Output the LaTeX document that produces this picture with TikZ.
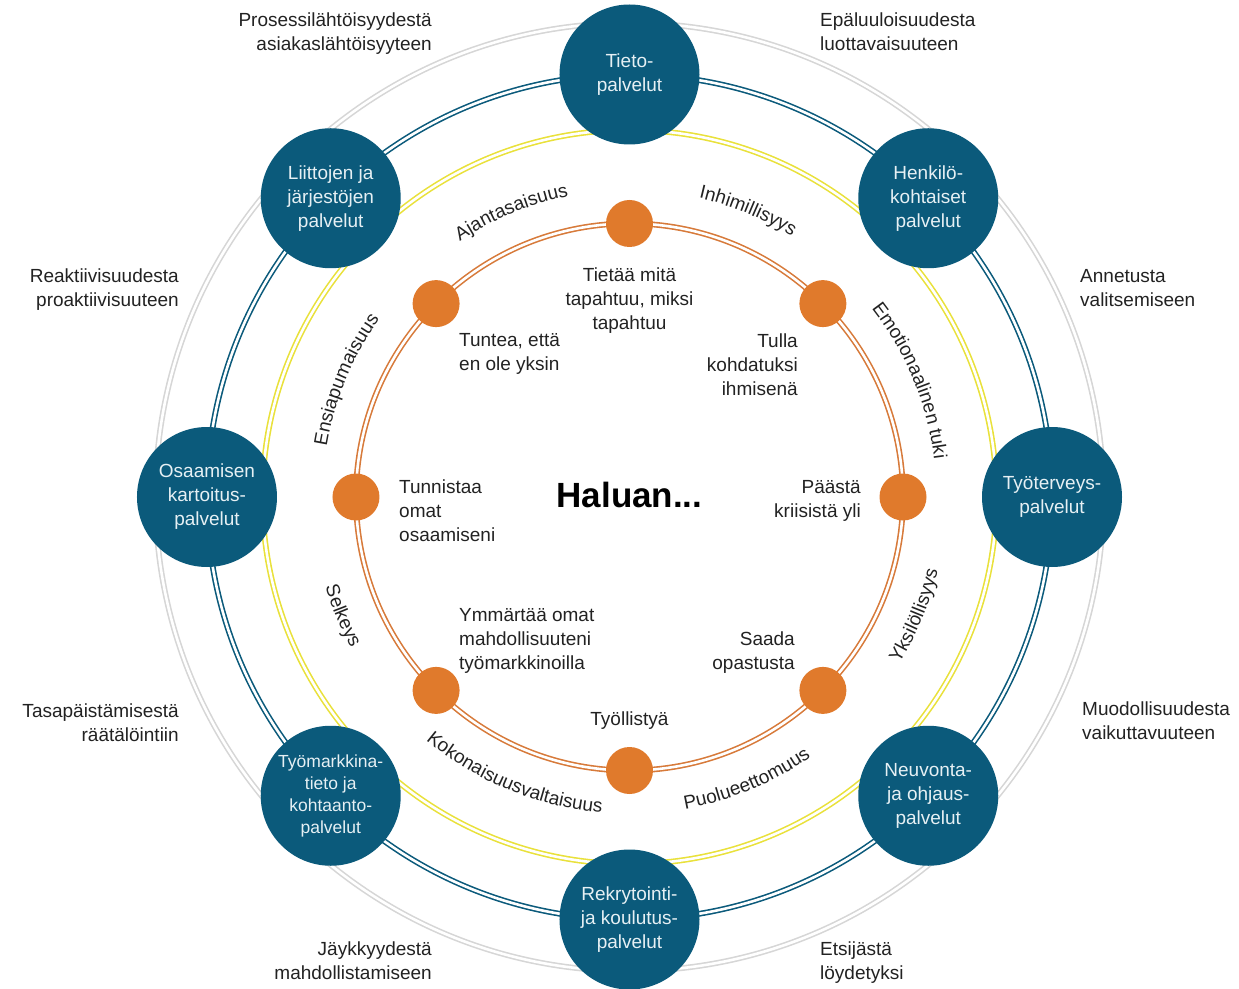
\documentclass[tikz,border=0pt]{standalone}
\usepackage{fontspec}
\setmainfont{Liberation Sans}
\usetikzlibrary{decorations.text}
\definecolor{nodeblue}{HTML}{0B5A7B}
\definecolor{ringgrey}{HTML}{D6D6D6}
\definecolor{ringyellow}{HTML}{E9E13A}
\definecolor{ringorange}{HTML}{D77A3A}
\definecolor{dotorange}{HTML}{E07A2C}
\definecolor{txt}{HTML}{222222}
\definecolor{svctxt}{HTML}{E6F0F4}
\newcommand\lblfont{\fontsize{19}{24}\selectfont}
\newcommand\smallsvcfont{\fontsize{17.5}{22}\selectfont}
\begin{document}
\begin{tikzpicture}[x=1pt,y=1pt,
  ring/.style={line width=1.6pt, double=white, double distance=2.6pt},
  svc/.style={circle, fill=nodeblue, minimum size=140pt, inner sep=0pt, text=svctxt, align=center, font=\lblfont},
  dot/.style={circle, fill=dotorange, minimum size=47pt, inner sep=0pt},
  lbl/.style={text=txt, font=\lblfont, inner sep=0pt},
  toparc/.style={decorate, decoration={text along path, text align=center, text={|\lblfont\color{txt}|#1}}},
  botarc/.style={decorate, decoration={text along path, text align=center, text={|\lblfont\color{txt}|#1}}}
]
\useasboundingbox (-629.5,-491) rectangle (609.5,497);
\coordinate (c) at (0,0);
% rings
\draw[ring, draw=ringgrey] (c) circle[radius=474];
\draw[ring, draw=nodeblue] (c) circle[radius=422.5];
\draw[ring, draw=ringyellow] (c) circle[radius=367];
\draw[ring, draw=ringorange] (c) circle[radius=273.5];
% service nodes
\node[svc] (s1) at (90:422.5) {Tieto-\\palvelut};
\node[svc] (s2) at (45:422.5) {Henkilö-\\kohtaiset\\palvelut};
\node[svc] (s3) at (0:422.5) {Työterveys-\\palvelut};
\node[svc] (s4) at (-45:422.5) {Neuvonta-\\ja ohjaus-\\palvelut};
\node[svc] (s5) at (-90:422.5) {Rekrytointi-\\ja koulutus-\\palvelut};
\node[svc, font=\smallsvcfont] (s6) at (-135:422.5) {Työmarkkina-\\tieto ja\\kohtaanto-\\palvelut};
\node[svc] (s7) at (180:422.5) {Osaamisen\\kartoitus-\\palvelut};
\node[svc] (s8) at (135:422.5) {Liittojen ja\\järjestöjen\\palvelut};
% orange dots
\node[dot] (d1) at (90:273.5) {};
\node[dot] (d2) at (45:273.5) {};
\node[dot] (d3) at (0:273.5) {};
\node[dot] (d4) at (-45:273.5) {};
\node[dot] (d5) at (-90:273.5) {};
\node[dot] (d6) at (-135:273.5) {};
\node[dot] (d7) at (180:273.5) {};
\node[dot] (d8) at (135:273.5) {};
% curved labels
\path[toparc=Ajantasaisuus] (152.5:307) arc[start angle=152.5, end angle=72.5, radius=307];
\path[toparc=Inhimillisyys] (107.5:307) arc[start angle=107.5, end angle=27.5, radius=307];
\path[toparc=Emotionaalinen tuki] (62.5:307) arc[start angle=62.5, end angle=-17.5, radius=307];
\path[toparc=Ensiapumaisuus] (197.5:307) arc[start angle=197.5, end angle=117.5, radius=307];
\path[botarc=Selkeys] (162.5:317) arc[start angle=162.5, end angle=242.5, radius=317];
\path[botarc=Kokonaisuusvaltaisuus] (207.5:317) arc[start angle=207.5, end angle=287.5, radius=317];
\path[botarc=Puolueettomuus] (252.5:317) arc[start angle=252.5, end angle=332.5, radius=317];
\path[botarc=Yksilöllisyys] (297.5:317) arc[start angle=297.5, end angle=377.5, radius=317];
% outer labels (anchor at baseline of last line)
\node[lbl, anchor=base east, align=right] (o1) at (-197.5,446) {Prosessilähtöisyydestä\\asiakaslähtöisyyteen};
\node[lbl, anchor=base west, align=left] (o2) at (190.5,446) {Epäluuloisuudesta\\luottavaisuuteen};
\node[lbl, anchor=base east, align=right] (o3) at (-450.5,190) {Reaktiivisuudesta\\proaktiivisuuteen};
\node[lbl, anchor=base west, align=left] (o4) at (450.5,190) {Annetusta\\valitsemiseen};
\node[lbl, anchor=base east, align=right] (o5) at (-450.5,-244) {Tasapäistämisestä\\räätälöintiin};
\node[lbl, anchor=base west, align=left] (o6) at (452.5,-242) {Muodollisuudesta\\vaikuttavuuteen};
\node[lbl, anchor=base east, align=right] (o7) at (-197.5,-482) {Jäykkyydestä\\mahdollistamiseen};
\node[lbl, anchor=base west, align=left] (o8) at (190.5,-482) {Etsijästä\\löydetyksi};
% inner labels
\node[lbl, anchor=base, align=center] (i1) at (0,167) {Tietää mitä\\tapahtuu, miksi\\tapahtuu};
\node[lbl, anchor=base west, align=left] (i2) at (-170.5,126) {Tuntea, että\\en ole yksin};
\node[lbl, anchor=base east, align=right] (i3) at (168.5,102) {Tulla\\kohdatuksi\\ihmisenä};
\node[lbl, anchor=base west, align=left] (i4) at (-230.5,-44) {Tunnistaa\\omat\\osaamiseni};
\node[lbl, anchor=base east, align=right] (i5) at (231.5,-20) {Päästä\\kriisistä yli};
\node[lbl, anchor=base west, align=left] (i6) at (-170.5,-172) {Ymmärtää omat\\mahdollisuuteni\\työmarkkinoilla};
\node[lbl, anchor=base east, align=right] (i7) at (165.5,-172) {Saada\\opastusta};
\node[lbl, anchor=base, align=center] (i8) at (0,-228) {Työllistyä};
\node[lbl, anchor=base, font=\fontsize{35}{40}\selectfont\bfseries, text=black] (h) at (0,-10) {Haluan...};
\end{tikzpicture}
\end{document}
